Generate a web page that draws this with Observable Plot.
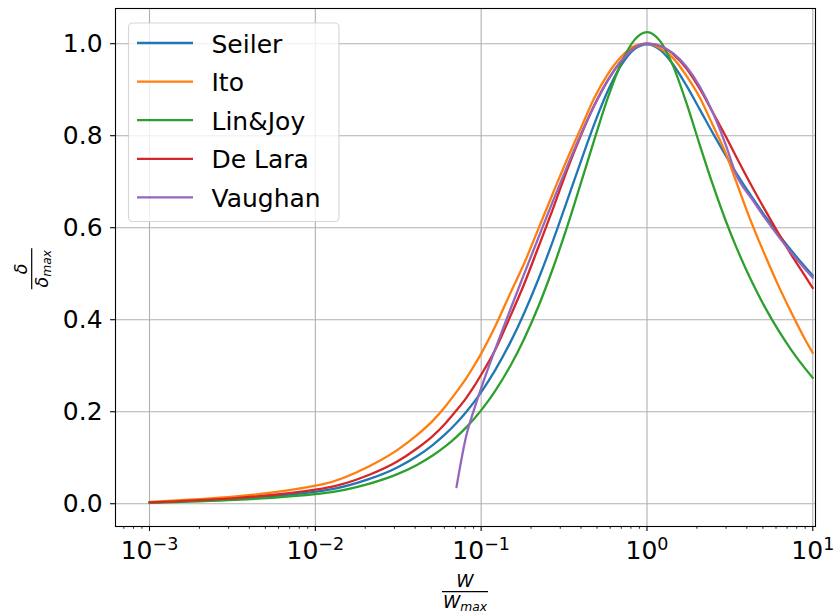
<!DOCTYPE html>
<html>
<head>
<meta charset="utf-8">
<script src="https://cdn.jsdelivr.net/npm/d3@7"></script>
<script src="https://cdn.jsdelivr.net/npm/@observablehq/plot@0.6"></script>
<style>
  html, body { margin: 0; padding: 0; background: #ffffff; }
  #chart svg { display: block; }
</style>
</head>
<body>
<div id="chart"></div>
<script>
// W / W_max sample positions
const W = [0.001, 0.011, 0.021, 0.031, 0.041, 0.051, 0.061, 0.071, 0.081, 0.091, 0.101,
  0.121, 0.151, 0.181, 0.221, 0.271, 0.331, 0.401, 0.481, 0.581, 0.701, 0.841, 1.001,
  1.201, 1.441, 1.731, 2.081, 2.501, 3.001, 3.421, 4.321, 5.181, 6.221, 7.461, 8.951, 9.991];

// delta / delta_max
const seiler = [0.0026, 0.0280, 0.0533, 0.0783, 0.1031, 0.1276, 0.1517, 0.1755, 0.1990, 0.2220, 0.2449,
  0.2893, 0.3529, 0.4131, 0.4874, 0.5714, 0.6600, 0.7460, 0.8252, 0.8976, 0.9539, 0.9883, 0.9987,
  0.9864, 0.9542, 0.9087, 0.8571, 0.8050, 0.7557, 0.7216, 0.6651, 0.6242, 0.5854, 0.5494, 0.5154, 0.4959];
const ito = [0.0038, 0.042, 0.081, 0.116, 0.149, 0.180, 0.212, 0.243, 0.272, 0.301, 0.329,
  0.384, 0.460, 0.521, 0.597, 0.675, 0.750, 0.818, 0.882, 0.934, 0.972, 0.995, 1.000,
  0.990, 0.968, 0.930, 0.883, 0.822, 0.760, 0.704, 0.606, 0.538, 0.473, 0.414, 0.358, 0.328];
const linJoy = [0.0021, 0.0227, 0.0433, 0.0639, 0.0844, 0.1047, 0.1251, 0.1454, 0.1654, 0.1853, 0.2051,
  0.2442, 0.3016, 0.3572, 0.4282, 0.5119, 0.6034, 0.6989, 0.7909, 0.8826, 0.9586, 1.0083, 1.0252,
  1.0055, 0.9507, 0.8706, 0.7801, 0.6923, 0.6129, 0.5615, 0.4801, 0.4251, 0.3761, 0.3330, 0.2948, 0.2738];
const deLara = [0.0030, 0.0328, 0.0624, 0.0912, 0.120, 0.147, 0.175, 0.203, 0.229, 0.256, 0.283,
  0.333, 0.410, 0.476, 0.557, 0.641, 0.727, 0.802, 0.866, 0.921, 0.963, 0.991, 1.000,
  0.995, 0.977, 0.946, 0.902, 0.850, 0.797, 0.757, 0.688, 0.637, 0.587, 0.540, 0.496, 0.469];
// Vaughan starts at W = 0.071
const vaughan = [null, null, null, null, null, null, null, 0.036, 0.1449, 0.2069, 0.2558,
  0.3340, 0.4250, 0.4980, 0.5775, 0.6578, 0.7344, 0.8043, 0.8652, 0.9203, 0.9635, 0.9908, 1.0000,
  0.9949, 0.9787, 0.9498, 0.9068, 0.8494, 0.7781, 0.7183, 0.6609, 0.6196, 0.5807, 0.5446, 0.5107, 0.4913];

const names = ["Seiler", "Ito", "Lin&Joy", "De Lara", "Vaughan"];
const colors = ["#1f77b4", "#ff7f0e", "#2ca02c", "#d62728", "#9467bd"];
const series = [seiler, ito, linJoy, deLara, vaughan];

const xMajor = [0.001, 0.01, 0.1, 1, 10];
const xMinor = [];
for (let e = -4; e <= 1; e++) for (let m = 2; m <= 9; m++) {
  const v = m * Math.pow(10, e);
  if (v > 6.3e-4 && v < 10.3) xMinor.push(v);
}
const yTicks = [0, 0.2, 0.4, 0.6, 0.8, 1.0];

const rows = [];
series.forEach((s, i) => s.forEach((v, j) => {
  if (v != null) rows.push({W: W[j], v, model: names[i]});
}));

const font = "DejaVu Sans";
const chart = Plot.plot({
  width: 835,
  height: 616,
  marginLeft: 115,
  marginRight: 20,
  marginTop: 8,
  marginBottom: 90,
  style: {fontFamily: font, fontSize: "25px", background: "#ffffff", color: "#000000"},
  x: {type: "log", domain: [Math.pow(10, -3.2051), Math.pow(10, 1.0163)], label: null},
  y: {domain: [-0.0495, 1.0765], label: null},
  color: {domain: names, range: colors},
  marks: [
    Plot.gridX(xMajor, {stroke: "#b0b0b0", strokeOpacity: 1, strokeWidth: 1.1}),
    Plot.gridY(yTicks, {stroke: "#b0b0b0", strokeOpacity: 1, strokeWidth: 1.1}),
    Plot.line(rows, {x: "W", y: "v", z: "model", stroke: "model", strokeWidth: 2.3, curve: "monotone-x"}),
    Plot.frame({stroke: "#000000", strokeWidth: 1.1}),
    Plot.axisX(xMinor, {tickSize: 2.8, strokeWidth: 0.85, tickFormat: () => "", label: null}),
    Plot.axisX(xMajor, {tickSize: 4.9, strokeWidth: 1.1, tickPadding: 10, fontSize: 25,
      tickFormat: d => "10^" + Math.round(Math.log10(d)), label: null}),
    Plot.axisY(yTicks, {tickSize: 4.9, strokeWidth: 1.1, tickPadding: 8, fontSize: 25,
      tickFormat: d3.format(".1f"), label: null})
  ]
});
document.getElementById("chart").appendChild(chart);

const svg = d3.select(chart);

// superscript tick labels for the log axis
svg.selectAll('g[aria-label="x-axis tick label"] text').each(function () {
  const t = this.textContent;
  if (!t.includes("^")) return;
  const e = t.split("^")[1].replace("-", "\u2212");
  const sel = d3.select(this);
  this.textContent = "";
  sel.append("tspan").text("10");
  sel.append("tspan").attr("dy", -9).attr("font-size", 17.5).text(e);
});

// legend
const lg = svg.append("g").attr("font-family", font).attr("font-size", 25).attr("text-anchor", "start");
lg.append("rect").attr("x", 128.5).attr("y", 23).attr("width", 210.5).attr("height", 198.5)
  .attr("rx", 4).attr("fill", "#ffffff").attr("fill-opacity", 0.8)
  .attr("stroke", "#cccccc").attr("stroke-opacity", 0.8).attr("stroke-width", 1.1);
names.forEach((n, i) => {
  const y = 43 + i * 38.6;
  lg.append("line").attr("x1", 137).attr("x2", 193).attr("y1", y).attr("y2", y)
    .attr("stroke", colors[i]).attr("stroke-width", 2.3);
  lg.append("text").attr("x", 211.5).attr("y", y + 9.5).attr("fill", "#000")
    .attr("text-anchor", "start").text(n);
});

// axis labels as fractions
function fraction(g, num, den, sub, barLen) {
  g.attr("font-family", font).attr("font-style", "italic").attr("font-size", 17.5).attr("fill", "#000");
  g.append("text").attr("x", 0).attr("y", -4.7).attr("text-anchor", "middle").text(num);
  g.append("line").attr("x1", -barLen / 2).attr("x2", barLen / 2).attr("y1", 0).attr("y2", 0)
    .attr("stroke", "#000").attr("stroke-width", 1.2);
  const d = g.append("text").attr("x", 0).attr("y", 16).attr("text-anchor", "middle");
  d.append("tspan").text(den);
  d.append("tspan").attr("font-size", 12.3).attr("dy", 3).text(sub);
}
fraction(svg.append("g").attr("transform", "translate(465,591.7)"), "W", "W", "max", 46);
fraction(svg.append("g").attr("transform", "translate(31.7,268.8) rotate(-90)"), "\u03b4", "\u03b4", "max", 41);
</script>
</body>
</html>
